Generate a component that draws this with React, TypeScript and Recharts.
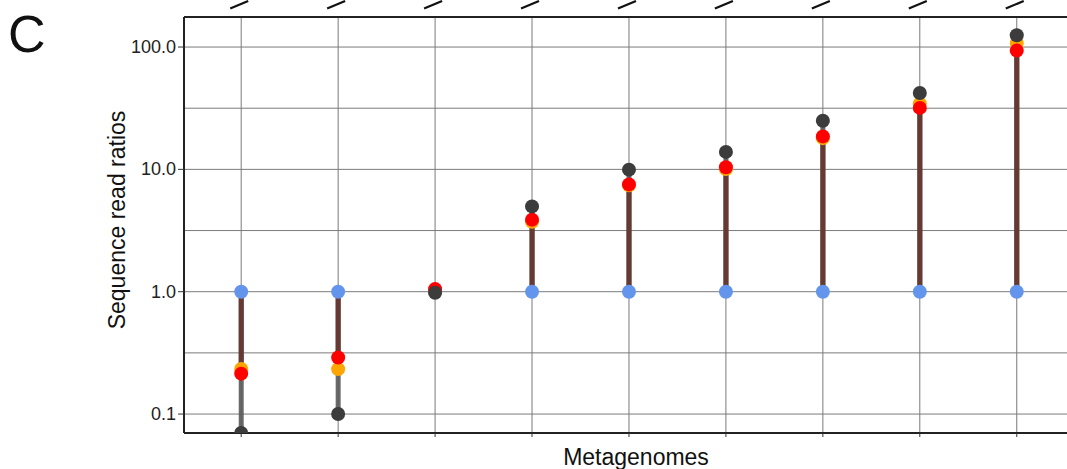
import React from "react";
import {
  ComposedChart,
  Bar,
  Line,
  XAxis,
  YAxis,
  CartesianGrid,
} from "recharts";

// metagenome index along x
const samples = [1, 2, 3, 4, 5, 6, 7, 8, 9];
// sequence read ratios per metagenome
const reference = [1, 1, 1, 1, 1, 1, 1, 1, 1];
const orange = [0.234, 0.233, 1.0, 3.73, 7.4, 10.05, 18.0, 34.5, 108];
const red = [0.214, 0.29, 1.05, 3.88, 7.54, 10.4, 18.6, 31.8, 93.5];
const black = [0.07, 0.1, 0.98, 4.98, 9.95, 13.9, 25.0, 42.1, 124.7];

const yTicks = [0.1, 0.3162, 1, 3.162, 10, 31.62, 100];
const decadeLabels: Record<string, string> = { "0.1": "0.1", "1": "1.0", "10": "10.0", "100": "100.0" };

const data = samples.map((s, i) => ({
  s,
  baseline: reference[i],
  orange: orange[i],
  red: red[i],
  black: black[i],
  grayRange: [Math.min(reference[i], black[i]), Math.max(reference[i], black[i])],
  brownRange: [Math.min(reference[i], red[i]), Math.max(reference[i], red[i])],
}));

const FONT = '"Liberation Sans", Arial, sans-serif';
const X_DOMAIN: [number, number] = [0.41, 9.9];

const YTick = (props: any) => {
  const { x, y, payload } = props;
  const label = decadeLabels[String(payload.value)];
  if (!label) return <g />;
  return (
    <g>
      <line x1={x + 2} x2={x + 8} y1={y} y2={y} stroke="#333" strokeWidth={1} />
      <text x={x} y={y} dy={6} textAnchor="end" fontSize={18} fill="#222" fontFamily={FONT}>
        {label}
      </text>
    </g>
  );
};

// cut-off rotated labels at the top show only as short slashes
const TopTick = (props: any) => {
  const { x } = props;
  return <line x1={x - 11} y1={8.5} x2={x + 7} y2={1} stroke="#111" strokeWidth={2.2} />;
};

const dot = (color: string) => ({ r: 7, fill: color, stroke: "none", strokeWidth: 0 });

export default function App() {
  return (
    <div
      style={{
        position: "absolute",
        left: 0,
        top: 0,
        width: 1067,
        height: 469,
        overflow: "hidden",
        background: "#fff",
        fontFamily: FONT,
      }}
    >
      <ComposedChart
        width={1110}
        height={469}
        data={data}
        margin={{ top: 16, right: 6, bottom: 35, left: 0 }}
      >
        <CartesianGrid xAxisId="main" stroke="#7a7a7a" strokeWidth={1} />
        <XAxis xAxisId="gray" dataKey="s" type="number" domain={X_DOMAIN} hide height={0} allowDataOverflow />
        <XAxis
          xAxisId="main"
          dataKey="s"
          type="number"
          domain={X_DOMAIN}
          ticks={samples}
          height={1}
          axisLine={{ stroke: "#222", strokeWidth: 2 }}
          tickLine={{ stroke: "#333" }}
          tickSize={4}
          tickFormatter={() => ""}
          allowDataOverflow
        />
        <XAxis
          xAxisId="top"
          orientation="top"
          dataKey="s"
          type="number"
          domain={X_DOMAIN}
          ticks={samples}
          height={1}
          axisLine={{ stroke: "#222", strokeWidth: 2 }}
          tickLine={false}
          tick={<TopTick />}
          allowDataOverflow
        />
        <YAxis
          type="number"
          scale="log"
          domain={[0.07, 176]}
          allowDataOverflow
          ticks={yTicks}
          width={184}
          axisLine={{ stroke: "#222", strokeWidth: 2 }}
          tickLine={false}
          tickSize={6}
          tickMargin={2}
          tick={<YTick />}
          interval={0}
        />
        <Bar xAxisId="gray" dataKey="grayRange" barSize={5} fill="#5a5a5a" fillOpacity={0.9} isAnimationActive={false} />
        <Bar xAxisId="main" dataKey="brownRange" barSize={5} fill="#663a33" isAnimationActive={false} />
        <Line xAxisId="main" dataKey="baseline" stroke="none" dot={dot("#6495ed")} activeDot={false} isAnimationActive={false} />
        <Line xAxisId="main" dataKey="orange" stroke="none" dot={dot("#ffa500")} activeDot={false} isAnimationActive={false} />
        <Line xAxisId="main" dataKey="red" stroke="none" dot={dot("#ff0000")} activeDot={false} isAnimationActive={false} />
        <Line xAxisId="main" dataKey="black" stroke="none" dot={dot("#3c3c3c")} activeDot={false} isAnimationActive={false} />
      </ComposedChart>
      <div style={{ position: "absolute", left: 8, top: 5, fontSize: 52, color: "#111", lineHeight: "58px" }}>C</div>
      <div
        style={{
          position: "absolute",
          left: 117,
          top: 220,
          transform: "translate(-50%, -50%) rotate(-90deg)",
          whiteSpace: "nowrap",
          fontSize: 23,
          color: "#111",
        }}
      >
        Sequence read ratios
      </div>
      <div
        style={{
          position: "absolute",
          left: 636,
          top: 457,
          transform: "translate(-50%, -50%)",
          whiteSpace: "nowrap",
          fontSize: 23,
          color: "#111",
        }}
      >
        Metagenomes
      </div>
    </div>
  );
}
